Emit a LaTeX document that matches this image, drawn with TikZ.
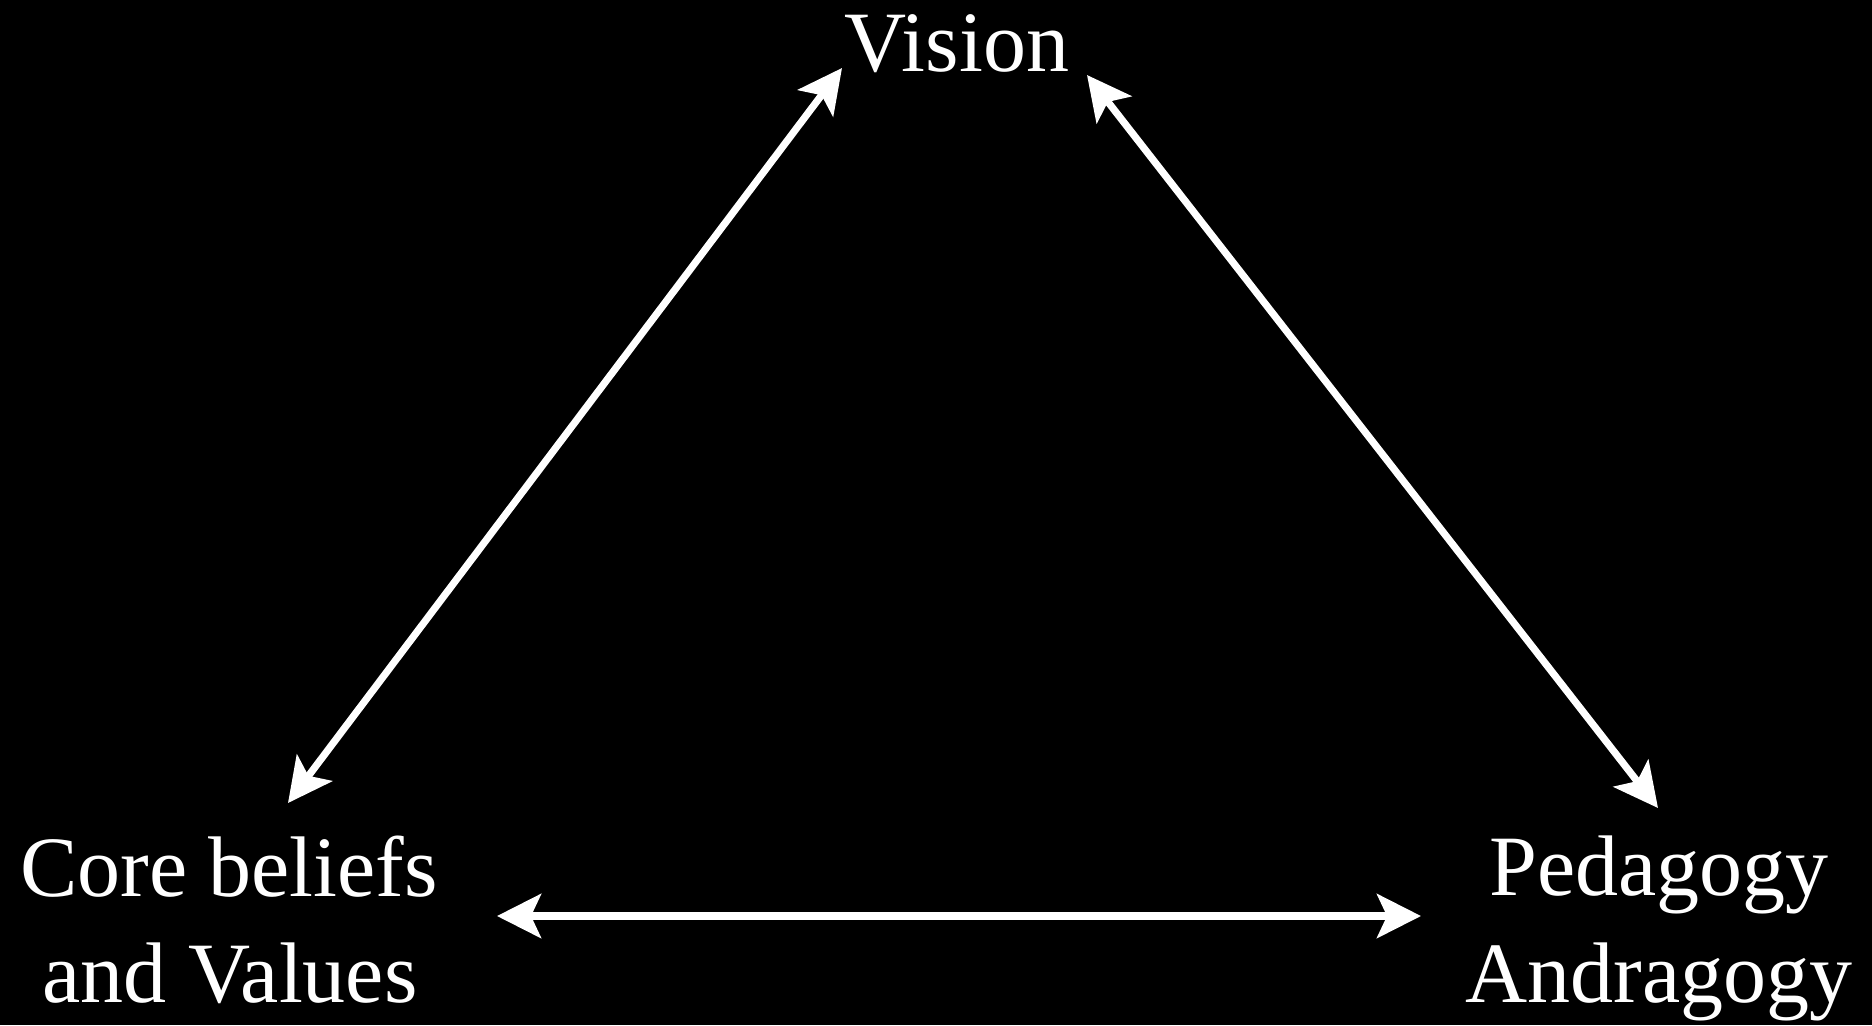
\documentclass[tikz,border=0pt]{standalone}
\usepackage{fontspec}
\setmainfont{Liberation Serif}
\usetikzlibrary{arrows.meta}
\tikzset{
  lbl/.style={text=white, inner sep=0pt, anchor=base, font=\fontsize{43}{53}\selectfont},
  link/.style={white, line width=3.6pt, {Stealth[length=22pt,width=22pt,inset=5pt]}-{Stealth[length=22pt,width=22pt,inset=5pt]}}
}
\begin{document}
\begin{tikzpicture}[x=0.5pt,y=-0.5pt]
\fill[black] (0,0) rectangle (1872,1025);
\useasboundingbox (0,0) rectangle (1872,1025);
\node[lbl] (vision) at (957,71) {Vision};
\node[lbl] (core1) at (229,896) {Core beliefs};
\node[lbl] (core2) at (230,1002) {and Values};
\node[lbl] (ped1) at (1659,895) {Pedagogy};
\node[lbl] (ped2) at (1659,1002) {Andragogy};
\coordinate (vL) at (842,68);
\coordinate (cU) at (288,803);
\coordinate (vR) at (1087,75);
\coordinate (pU) at (1658,808);
\coordinate (cR) at (497,916);
\coordinate (pL) at (1421,916);
\draw[link] (cU) -- (vL);
\draw[link] (vR) -- (pU);
\draw[link] (cR) -- (pL);
\end{tikzpicture}
\end{document}
